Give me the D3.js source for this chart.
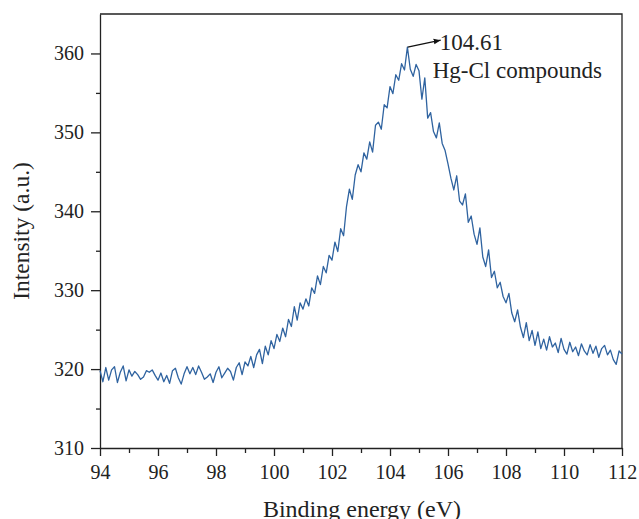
<!DOCTYPE html>
<html>
<head>
<meta charset="utf-8">
<script src="https://cdn.jsdelivr.net/npm/d3@7"></script>
<style>
  body { margin: 0; background: #fff; }
  text { font-family: "Liberation Serif", "Times New Roman", serif; fill: #222; }
</style>
</head>
<body>
<div id="chart"></div>
<script>
// binding energy grid: 94.0 .. 112.0 eV, 0.1 eV step
const energyStart = 94.0;
const energyStep = 0.1;
const intensity = [
  319.8, 318.4, 320.2, 318.6, 319.9, 320.3, 318.3, 319.6, 320.4, 318.5,
  319.9, 319.1, 319.7, 319.3, 318.7, 319.0, 319.8, 319.6, 319.9, 319.2,
  318.6, 319.5, 318.4, 319.2, 318.2, 319.8, 320.1, 318.9, 318.1, 319.4,
  320.3, 319.4, 320.2, 319.3, 320.4, 319.6, 318.7, 319.0, 319.4, 318.3,
  319.6, 320.3, 318.9, 319.5, 320.1, 319.7, 318.6, 320.2, 320.8, 319.3,
  320.9, 320.4, 321.6, 320.2, 321.8, 322.5, 320.7, 322.9, 321.8, 323.6,
  322.6, 324.4, 323.5, 325.2, 324.1, 326.3, 325.4, 327.9, 326.2, 328.4,
  327.6, 328.9, 328.0, 330.3, 329.6, 331.8, 330.7, 333.0, 332.2, 334.4,
  333.8, 336.1, 334.9, 337.8, 336.9, 340.6, 342.8, 341.5, 344.6, 345.9,
  345.0, 347.4, 346.6, 348.8, 347.5, 350.9, 351.3, 350.4, 353.5, 353.1,
  355.8, 354.9, 357.3, 356.6, 358.7, 357.9, 360.8, 358.0, 357.1, 358.6,
  357.8, 354.2, 356.9, 351.8, 352.5, 350.1, 349.3, 351.2, 348.6, 347.7,
  346.0, 344.2, 342.7, 344.5, 341.3, 340.8, 342.2, 338.6, 339.4, 337.1,
  335.8, 337.9, 334.2, 333.0, 335.1, 331.6, 332.4, 330.3, 331.0, 329.2,
  328.4, 329.6, 327.1, 326.0, 327.5, 325.3, 324.0, 325.9, 323.6, 324.9,
  323.0, 324.7, 322.6, 323.8, 322.4, 324.1, 322.8, 323.3, 322.1, 323.9,
  322.5, 321.9, 323.4, 322.2, 322.8, 321.7, 323.2, 322.3, 321.8, 323.1,
  322.0, 322.9, 321.5, 322.6, 323.0, 321.8, 322.4, 321.2, 320.6, 322.3,
  321.9
];
const xTicks = [94, 96, 98, 100, 102, 104, 106, 108, 110, 112];
const xMinor = [95, 97, 99, 101, 103, 105, 107, 109, 111];
const yTicks = [310, 320, 330, 340, 350, 360];
const yMinor = [315, 325, 335, 345, 355];
const peak = { energy: 104.61, value: 360.8, label: "104.61", name: "Hg-Cl compounds" };

const data = intensity.map((v, i) => ({ e: energyStart + i * energyStep, v: v }));

const width = 639, height = 519;
const margin = { left: 100, right: 622, top: 14, bottom: 448 };

const svg = d3.select("#chart").append("svg")
  .attr("width", width)
  .attr("height", height);

const x = d3.scaleLinear().domain([94, 112]).range([margin.left, margin.right]);
const y = d3.scaleLinear().domain([310, 365]).range([margin.bottom, margin.top]);

const axisColor = "#222";

// frame (top + right)
svg.append("path")
  .attr("d", `M${margin.left},${margin.top}H${margin.right}V${margin.bottom}`)
  .attr("fill", "none").attr("stroke", axisColor).attr("stroke-width", 1.3);

// x axis
svg.append("g").attr("transform", `translate(0,${margin.bottom})`)
  .call(d3.axisBottom(x).tickValues(xTicks).tickSize(8).tickPadding(9).tickSizeOuter(0));
svg.append("g").attr("transform", `translate(0,${margin.bottom})`)
  .call(d3.axisBottom(x).tickValues(xMinor).tickSize(5).tickFormat("").tickSizeOuter(0))
  .select(".domain").remove();

// y axis
svg.append("g").attr("transform", `translate(${margin.left},0)`)
  .call(d3.axisLeft(y).tickValues(yTicks).tickSize(9).tickPadding(7).tickSizeOuter(0));
svg.append("g").attr("transform", `translate(${margin.left},0)`)
  .call(d3.axisLeft(y).tickValues(yMinor).tickSize(4).tickFormat("").tickSizeOuter(0))
  .select(".domain").remove();

svg.selectAll(".domain, .tick line")
  .attr("stroke", axisColor).attr("stroke-width", 1.3);
svg.selectAll(".tick text")
  .attr("fill", "#222")
  .style("font-family", "'Liberation Serif', 'Times New Roman', serif")
  .style("font-size", "20px");

// axis titles
svg.append("text")
  .attr("x", (margin.left + margin.right) / 2 + 1)
  .attr("y", 517)
  .attr("text-anchor", "middle")
  .style("font-size", "24px")
  .text("Binding energy (eV)");

svg.append("text")
  .attr("transform", `translate(29,${(margin.top + margin.bottom) / 2}) rotate(-90)`)
  .attr("text-anchor", "middle")
  .style("font-size", "23.5px")
  .text("Intensity (a.u.)");

// spectrum
svg.append("path")
  .datum(data)
  .attr("fill", "none")
  .attr("stroke", "#2f63a0")
  .attr("stroke-width", 1.3)
  .attr("stroke-linejoin", "round")
  .attr("d", d3.line().x(d => x(d.e)).y(d => y(d.v)));

// peak annotation
svg.append("defs").append("marker")
  .attr("id", "arrow")
  .attr("viewBox", "0 0 10 10")
  .attr("refX", 10).attr("refY", 5)
  .attr("markerWidth", 7).attr("markerHeight", 7)
  .attr("markerUnits", "userSpaceOnUse")
  .attr("orient", "auto")
  .append("path").attr("d", "M0,1L10,5L0,9Z").attr("fill", "#111");

const px = x(peak.energy), py = y(peak.value);
svg.append("line")
  .attr("x1", px).attr("y1", py)
  .attr("x2", px + 33).attr("y2", py - 7)
  .attr("stroke", "#111").attr("stroke-width", 1.3)
  .attr("marker-end", "url(#arrow)");

svg.append("text")
  .attr("x", px + 32).attr("y", py + 3)
  .style("font-size", "23px")
  .text(peak.label);
svg.append("text")
  .attr("x", px + 25).attr("y", py + 31)
  .style("font-size", "23px")
  .text(peak.name);
</script>
</body>
</html>
